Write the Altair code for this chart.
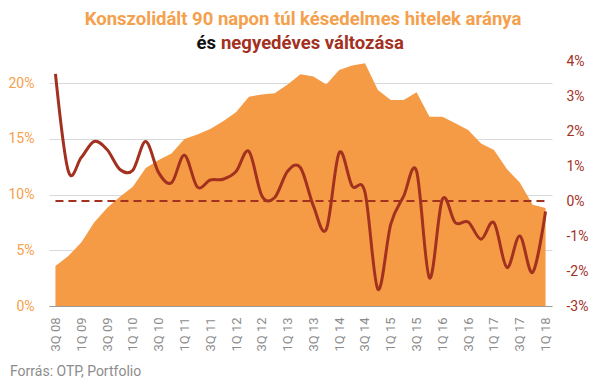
import altair as alt
import pandas as pd

quarters = ["3Q 08", "4Q 08", "1Q 09", "2Q 09", "3Q 09", "4Q 09", "1Q 10", "2Q 10",
            "3Q 10", "4Q 10", "1Q 11", "2Q 11", "3Q 11", "4Q 11", "1Q 12", "2Q 12",
            "3Q 12", "4Q 12", "1Q 13", "2Q 13", "3Q 13", "4Q 13", "1Q 14", "2Q 14",
            "3Q 14", "4Q 14", "1Q 15", "2Q 15", "3Q 15", "4Q 15", "1Q 16", "2Q 16",
            "3Q 16", "4Q 16", "1Q 17", "2Q 17", "3Q 17", "4Q 17", "1Q 18"]

# 90+ days past due loan ratio (%), left axis
npl_ratio = [3.6, 4.5, 5.7, 7.5, 8.8, 9.8, 10.7, 12.4, 13.1, 13.7, 15.0, 15.4, 15.9,
             16.6, 17.4, 18.8, 19.0, 19.1, 19.9, 20.8, 20.6, 19.9, 21.2, 21.6, 21.8,
             19.4, 18.5, 18.5, 19.2, 17.0, 17.0, 16.4, 15.8, 14.6, 14.0, 12.3, 11.1,
             9.1, 8.8]

# quarterly change (%), right axis
qoq_change = [3.63, 0.85, 1.24, 1.70, 1.47, 0.90, 0.88, 1.70, 0.81, 0.52, 1.31, 0.40,
              0.60, 0.62, 0.84, 1.42, 0.15, 0.10, 0.85, 0.95, -0.14, -0.81, 1.38, 0.43,
              0.25, -2.52, -0.66, 0.14, 0.85, -2.20, 0.05, -0.62, -0.60, -1.09, -0.62,
              -1.90, -1.00, -2.04, -0.30]

zero_ref = [0.0] * len(quarters)

left_ticks = [0, 5, 10, 15, 20]
right_ticks = [-3, -2, -1, 0, 1, 2, 3, 4]

title_line1 = "Konszolidált 90 napon túl késedelmes hitelek aránya"
title_line2a = "és"
title_line2b = "negyedéves változása"
source_text = "Forrás: OTP, Portfolio"

ORANGE = "#F59B45"
ORANGE_TXT = "#F5A04C"
DARKRED = "#A2311F"
GRAY = "#8C8C8C"
FONT = "Roboto"

df = pd.DataFrame({"q": quarters, "ratio": npl_ratio})
long = pd.concat([
    pd.DataFrame({"q": quarters, "val": qoq_change, "series": "change"}),
    pd.DataFrame({"q": quarters, "val": zero_ref, "series": "zero"}),
])

W, H = 503, 245

x_enc = alt.X(
    "q:N", sort=quarters,
    scale=alt.Scale(type="point", padding=0.5),
    axis=alt.Axis(values=quarters[::2], labelAngle=270, title=None, ticks=False,
                  domain=True, domainColor="#9A9A9A", domainWidth=1, labelColor=GRAY,
                  labelFont=FONT, labelFontSize=13, labelPadding=11, grid=False),
)

area = alt.Chart(df).mark_area(color=ORANGE, opacity=1).encode(
    x=x_enc,
    y=alt.Y("ratio:Q", scale=alt.Scale(domain=[0, 22], nice=False, zero=True),
            axis=alt.Axis(values=left_ticks, labelExpr="datum.value + '%'", title=None,
                          grid=True, gridColor="#D9D9D9", gridWidth=1, domain=False,
                          ticks=False, labelColor=ORANGE_TXT, labelFont=FONT,
                          labelFontSize=14, labelPadding=15)),
)

right_axis = alt.Axis(orient="right", values=right_ticks, labelExpr="datum.value + '%'",
                      title=None, grid=False, domain=False, ticks=False,
                      labelColor=DARKRED, labelFont=FONT, labelFontSize=14,
                      labelPadding=14)
right_scale = alt.Scale(domain=[-3, 4], nice=False, zero=False)

zero_line = alt.Chart(long).transform_filter("datum.series == 'zero'").mark_line(
    color=DARKRED, strokeWidth=2, strokeDash=[8, 5]).encode(
    x=x_enc,
    y=alt.Y("val:Q", scale=right_scale, axis=right_axis),
)

change_line = alt.Chart(long).transform_filter("datum.series == 'change'").mark_line(
    color=DARKRED, strokeWidth=3, interpolate="cardinal").encode(
    x=x_enc,
    y=alt.Y("val:Q", scale=right_scale, axis=right_axis),
)

lines = alt.layer(zero_line, change_line)

one = alt.Data(values=[{"a": 1}])

t1 = alt.Chart(one).mark_text(font=FONT, fontWeight="bold", fontSize=18.5, color=ORANGE_TXT,
                              align="center", baseline="alphabetic").encode(
    x=alt.value(254), y=alt.value(-36), text=alt.value(title_line1))
t2a = alt.Chart(one).mark_text(font=FONT, fontWeight="bold", fontSize=18.5, color="#111111",
                               align="right", baseline="alphabetic").encode(
    x=alt.value(167), y=alt.value(-12), text=alt.value(title_line2a))
t2b = alt.Chart(one).mark_text(font=FONT, fontWeight="bold", fontSize=18.5, color=DARKRED,
                               align="left", baseline="alphabetic").encode(
    x=alt.value(172), y=alt.value(-12), text=alt.value(title_line2b))
src = alt.Chart(one).mark_text(font=FONT, fontSize=14, color=GRAY,
                               align="left", baseline="alphabetic").encode(
    x=alt.value(-39), y=alt.value(315), text=alt.value(source_text))

chart = alt.layer(area, lines, t1, t2a, t2b, src).resolve_scale(y="independent").properties(
    width=W, height=H,
    padding={"left": 41, "top": 53, "right": 45, "bottom": 72},
    autosize=alt.AutoSizeParams(type="none"),
).configure(background="white").configure_view(
    stroke=None, strokeWidth=0, strokeOpacity=0
).configure_axisY(domain=False, ticks=False)

chart.save("out.html", embed_options={"renderer": "svg", "actions": False})
